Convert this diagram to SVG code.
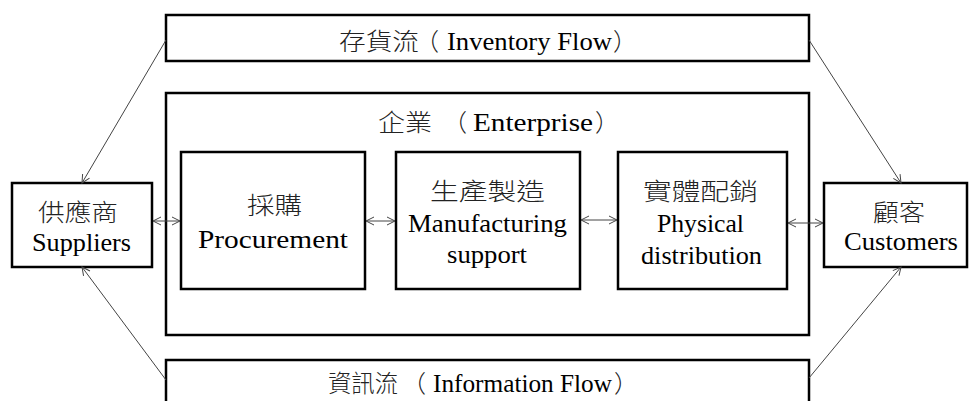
<svg xmlns="http://www.w3.org/2000/svg" width="969" height="401" viewBox="0 0 969 401">
  <style>
    .box { fill: #ffffff; stroke: #000000; stroke-width: 2.5; }
    .cjk { font-family: 'Noto Sans CJK TC', 'Noto Sans CJK SC', sans-serif; font-weight: 300; font-size: 24px; fill: #222222; }
    .lat { font-size: 25px; fill: #000000; }
    .link { fill: none; stroke: #444444; stroke-width: 1; }
  </style>
  <defs>
    <marker id="arrow" viewBox="0 0 10 10" refX="9" refY="5" markerWidth="10" markerHeight="10" markerUnits="userSpaceOnUse" orient="auto-start-reverse">
      <path d="M1,1 L9,5 L1,9" fill="none" stroke="#444444" stroke-width="1"/>
    </marker>
  </defs>

  <rect width="969" height="401" fill="#ffffff"/>

  <g font-family="Liberation Serif, Times New Roman, serif">
    <!-- inventory flow band -->
    <g id="inventory-flow">
      <rect class="box" x="166" y="15" width="643" height="46"/>
      <text class="cjk" x="339" y="50" textLength="80" lengthAdjust="spacingAndGlyphs">存貨流</text>
      <text class="cjk" x="415" y="50">（</text>
      <text class="lat" x="447" y="50" font-size="26" textLength="165" lengthAdjust="spacingAndGlyphs">Inventory Flow</text>
      <text class="cjk" x="613" y="50">）</text>
    </g>

    <!-- enterprise container -->
    <g id="enterprise">
      <rect class="box" x="166" y="93" width="643" height="242"/>
      <text class="cjk" x="378" y="131" textLength="54" lengthAdjust="spacingAndGlyphs">企業</text>
      <text class="cjk" x="443" y="131">（</text>
      <text class="lat" x="473" y="131" font-size="26" textLength="120" lengthAdjust="spacingAndGlyphs">Enterprise</text>
      <text class="cjk" x="595" y="131">）</text>
    </g>

    <!-- information flow band -->
    <g id="information-flow">
      <rect class="box" x="166" y="360" width="643" height="60"/>
      <text class="cjk" x="328" y="392" textLength="70" lengthAdjust="spacingAndGlyphs">資訊流</text>
      <text class="cjk" x="402" y="392">（</text>
      <text class="lat" x="433" y="392" font-size="26" textLength="179" lengthAdjust="spacingAndGlyphs">Information Flow</text>
      <text class="cjk" x="614" y="392">）</text>
    </g>

    <g id="suppliers">
      <rect class="box" x="12" y="183" width="140" height="84"/>
      <text class="cjk" x="38" y="221" textLength="80" lengthAdjust="spacingAndGlyphs">供應商</text>
      <text class="lat" x="32" y="251" textLength="99" lengthAdjust="spacingAndGlyphs">Suppliers</text>
    </g>

    <g id="procurement">
      <rect class="box" x="181" y="152" width="184" height="137"/>
      <text class="cjk" x="247" y="214" textLength="55" lengthAdjust="spacingAndGlyphs">採購</text>
      <text class="lat" x="198" y="248" textLength="150" lengthAdjust="spacingAndGlyphs">Procurement</text>
    </g>

    <g id="manufacturing">
      <rect class="box" x="396" y="152" width="184" height="137"/>
      <text class="cjk" x="430" y="200" textLength="115" lengthAdjust="spacingAndGlyphs">生產製造</text>
      <text class="lat" x="408" y="232" textLength="159" lengthAdjust="spacingAndGlyphs">Manufacturing</text>
      <text class="lat" x="447" y="263" textLength="80" lengthAdjust="spacingAndGlyphs">support</text>
    </g>

    <g id="physical-distribution">
      <rect class="box" x="618" y="152" width="169" height="137"/>
      <text class="cjk" x="643" y="200" textLength="115" lengthAdjust="spacingAndGlyphs">實體配銷</text>
      <text class="lat" x="657" y="232" textLength="87" lengthAdjust="spacingAndGlyphs">Physical</text>
      <text class="lat" x="641" y="264" textLength="121" lengthAdjust="spacingAndGlyphs">distribution</text>
    </g>

    <g id="customers">
      <rect class="box" x="824" y="183" width="143" height="84"/>
      <text class="cjk" x="873" y="221" textLength="52" lengthAdjust="spacingAndGlyphs">顧客</text>
      <text class="lat" x="844" y="250" textLength="114" lengthAdjust="spacingAndGlyphs">Customers</text>
    </g>
  </g>

  <!-- connectors -->
  <g id="connectors">
    <line class="link" x1="166" y1="40" x2="82" y2="183" marker-end="url(#arrow)"/>
    <line class="link" x1="166" y1="380" x2="82" y2="267" marker-end="url(#arrow)"/>
    <line class="link" x1="809" y1="40" x2="901" y2="183" marker-end="url(#arrow)"/>
    <line class="link" x1="809" y1="378" x2="901" y2="267" marker-end="url(#arrow)"/>
    <line class="link" x1="153" y1="221" x2="180" y2="221" marker-start="url(#arrow)" marker-end="url(#arrow)"/>
    <line class="link" x1="366" y1="221" x2="395" y2="221" marker-start="url(#arrow)" marker-end="url(#arrow)"/>
    <line class="link" x1="581" y1="220" x2="617" y2="220" marker-start="url(#arrow)" marker-end="url(#arrow)"/>
    <line class="link" x1="788" y1="223" x2="823" y2="223" marker-start="url(#arrow)" marker-end="url(#arrow)"/>
  </g>
</svg>
